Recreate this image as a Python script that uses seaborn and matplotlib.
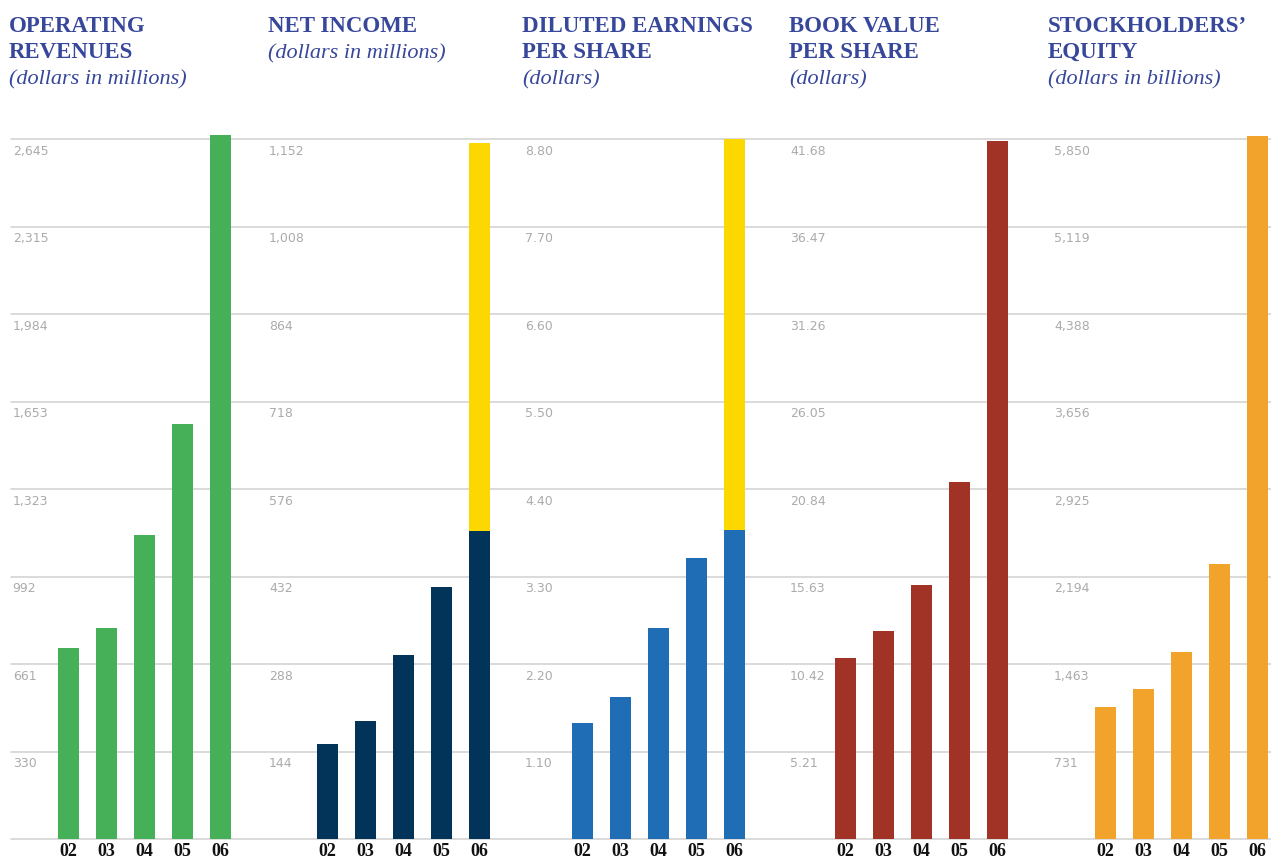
import matplotlib
matplotlib.use("Agg")
import matplotlib.pyplot as plt
import seaborn as sns

# ---- data -------------------------------------------------------------
years = ["02", "03", "04", "05", "06"]

operating_revenues = [722, 797, 1149, 1568, 2660]          # $ millions
net_income = [156, 194, 303, 415, 507]                      # $ millions
net_income_gain = [0, 0, 0, 0, 638]                         # extra 2006 segment
diluted_eps = [1.46, 1.79, 2.65, 3.53, 3.88]                # $
diluted_eps_gain = [0, 0, 0, 0, 4.92]                       # extra 2006 segment
book_value_per_share = [10.78, 12.38, 15.12, 21.26, 41.56]  # $
stockholders_equity = [1103, 1254, 1563, 2298, 5875]

revenue_ticks = ["330", "661", "992", "1,323", "1,653", "1,984", "2,315", "2,645"]
income_ticks = ["144", "288", "432", "576", "718", "864", "1,008", "1,152"]
eps_ticks = ["1.10", "2.20", "3.30", "4.40", "5.50", "6.60", "7.70", "8.80"]
bvps_ticks = ["5.21", "10.42", "15.63", "20.84", "26.05", "31.26", "36.47", "41.68"]
equity_ticks = ["731", "1,463", "2,194", "2,925", "3,656", "4,388", "5,119", "5,850"]

titles = [["OPERATING", "REVENUES"], ["NET INCOME"], ["DILUTED EARNINGS", "PER SHARE"],
          ["BOOK VALUE", "PER SHARE"], ["STOCKHOLDERS\u2019", "EQUITY"]]
subtitles = ["(dollars in millions)", "(dollars in millions)", "(dollars)",
             "(dollars)", "(dollars in billions)"]

GREEN, NAVY, BLUE, RED, ORANGE, YELLOW = "#46b058", "#02345a", "#1f6db5", "#a03226", "#f1a32b", "#fcd800"

panels = [
    dict(base=operating_revenues, extra=None, color=GREEN, ticks=revenue_ticks),
    dict(base=net_income, extra=net_income_gain, color=NAVY, ticks=income_ticks),
    dict(base=diluted_eps, extra=diluted_eps_gain, color=BLUE, ticks=eps_ticks),
    dict(base=book_value_per_share, extra=None, color=RED, ticks=bvps_ticks),
    dict(base=stockholders_equity, extra=None, color=ORANGE, ticks=equity_ticks),
]

# ---- layout (pixels) --------------------------------------------------
W, H = 1271, 861
AX_TOP, AX_BOT, GRID_TOP = 120, 839, 139
STEP = 38.0
lefts = [11, 266, 521, 786, 1050]
rights = [266, 521, 786, 1050, 1271]
first_bar = [68.5, 327.5, 582.5, 845.5, 1105.5]
tick_label_x = [12.7, 269, 525, 790, 1054]
title_x = [9, 268, 522, 789, 1048]
N_STEPS = 8
HEADROOM = (AX_BOT - AX_TOP) / (AX_BOT - GRID_TOP)

TITLE_COLOR = "#37479a"
GRID_COLOR = "#d4d4d4"
TICK_COLOR = "#ababab"

sns.set_style("white")
plt.rcParams["font.family"] = ["DejaVu Sans"]

fig = plt.figure(figsize=(W / 100, H / 100), dpi=100)

# shared background axes carrying the horizontal rules across all panels
bg = fig.add_axes([lefts[0] / W, 1 - AX_BOT / H, (rights[-1] - lefts[0]) / W,
                   (AX_BOT - AX_TOP) / H], zorder=0)
bg.set_ylim(0, HEADROOM)
bg.set_xlim(0, 1)
for k in range(N_STEPS + 1):
    bg.axhline(k / N_STEPS, color=GRID_COLOR, lw=1.2, clip_on=False)
bg.axis("off")


def to_num(s):
    return float(s.replace(",", ""))


for i, p in enumerate(panels):
    L, R = lefts[i], rights[i]
    ax = fig.add_axes([L / W, 1 - AX_BOT / H, (R - L) / W, (AX_BOT - AX_TOP) / H], zorder=1)
    top = to_num(p["ticks"][-1])
    tick_pos = [top * k / N_STEPS for k in range(1, N_STEPS + 1)]

    if p["extra"] is not None:
        totals = [b + e for b, e in zip(p["base"], p["extra"])]
        sns.barplot(x=years, y=totals, color=YELLOW, saturation=1, width=21 / STEP,
                    linewidth=0, errorbar=None, ax=ax, zorder=3)
    sns.barplot(x=years, y=p["base"], color=p["color"], saturation=1, width=21 / STEP,
                linewidth=0, errorbar=None, ax=ax, zorder=3)

    ax.set_xlim((L - first_bar[i]) / STEP, (R - first_bar[i]) / STEP)
    ax.set_ylim(0, top * HEADROOM)

    xf = (tick_label_x[i] - L) / (R - L)
    for lab, v in zip(p["ticks"], tick_pos):
        ax.annotate(lab, xy=(xf, v), xycoords=("axes fraction", "data"),
                    xytext=(0, -4), textcoords="offset points",
                    ha="left", va="top", fontsize=9, color=TICK_COLOR)

    ax.set_yticks([])
    ax.set_xlabel("")
    ax.set_ylabel("")
    ax.tick_params(axis="x", length=0, pad=3)
    for lab in ax.get_xticklabels():
        lab.set_fontfamily("Liberation Serif")
        lab.set_fontweight("bold")
        lab.set_fontsize(13)
        lab.set_color("#111111")
    for s in ax.spines.values():
        s.set_visible(False)
    ax.patch.set_alpha(0)

    # panel heading
    y = 32
    for line in titles[i]:
        fig.text(title_x[i] / W, 1 - y / H, line, ha="left", va="baseline",
                 family="Liberation Serif", fontweight="bold", fontsize=16.5,
                 color=TITLE_COLOR)
        y += 26
    fig.text(title_x[i] / W, 1 - y / H, subtitles[i], ha="left", va="baseline",
             family="Liberation Serif", style="italic", fontsize=16,
             color=TITLE_COLOR)

fig.savefig("out.png", dpi=100)
